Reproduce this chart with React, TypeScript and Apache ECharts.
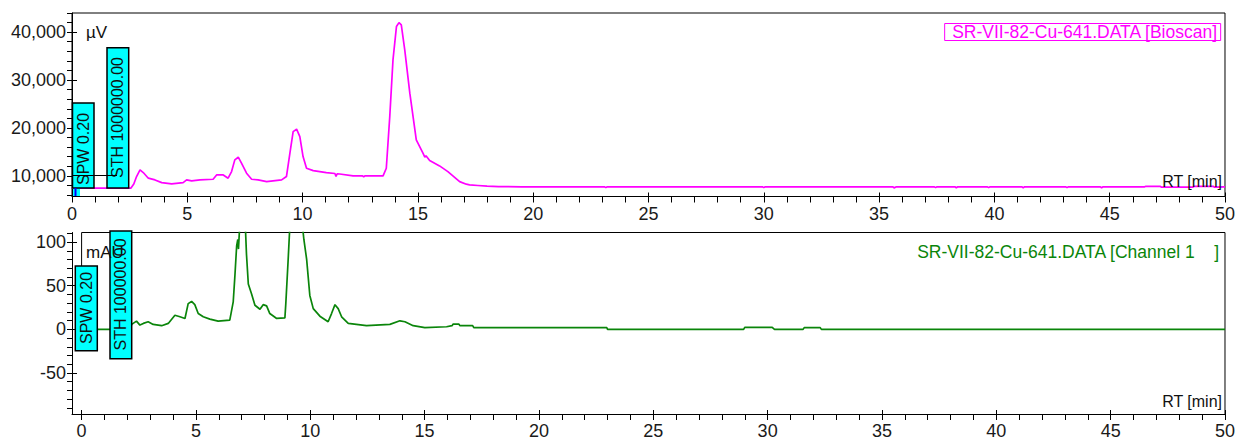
import React, { useEffect, useRef } from 'react';
import * as echarts from 'echarts';

// ---------- data ----------
const bioscanRt = [
  0, 2.55, 2.68, 2.8, 2.95, 3.09, 3.31, 3.6, 3.89, 4.32, 4.82, 4.97, 5.19, 5.55, 6.12, 6.27, 6.56, 6.77, 6.92,
  7.06, 7.21, 7.35, 7.57, 7.79, 8.07, 8.44, 9.09, 9.3, 9.45, 9.59, 9.74, 9.88, 10.02, 10.17, 10.46, 11.03,
  11.4, 11.45, 11.5, 11.61, 12.19, 12.6, 12.65, 12.7, 13.49, 13.63, 13.78, 13.92, 14.07, 14.18, 14.28, 14.43,
  14.65, 14.93, 15.22, 15.3, 15.35, 15.51, 15.94, 16.3, 16.81, 17.1, 17.24, 17.6, 18.0, 18.5, 19.5, 23.1,
  23.15, 23.2, 29.95, 30.0, 30.05, 35.6, 35.65, 35.75, 37.4, 37.45, 37.5, 38.3, 38.35, 38.4, 39.7, 39.75,
  39.8, 41.2, 41.25, 41.3, 43.1, 43.15, 43.2, 44.6, 44.65, 44.7, 46.5, 46.55, 47.2, 47.25, 48.6, 48.65,
  49.5, 49.55, 50,
];
const bioscanUv = [
  7430, 7430, 8300, 9860, 11250, 10700, 9520, 9160, 8600, 8330, 8600, 9160, 8950, 9160, 9300, 10200, 10200, 9520, 10900,
  13340, 13900, 12650, 10560, 9300, 9160, 8810, 9160, 9860, 14740, 19250, 19750, 18200, 14030, 11600, 11100, 10700,
  10500, 9900, 10450, 10400, 10000, 10000, 9800, 10000, 10000, 11600, 22380, 34220, 41170, 42000, 41530, 36300,
  27270, 17520, 14740, 13900, 14200, 13200, 12090, 10900, 8810, 8270, 8120, 8000, 7850, 7770, 7720, 7720,
  7550, 7720, 7720, 7550, 7720, 7720, 7500, 7720, 7720, 7550, 7720, 7720, 7500, 7720, 7720, 7550,
  7720, 7720, 7520, 7720, 7720, 7540, 7720, 7720, 7520, 7720, 7720, 7800, 7800, 7650, 7650, 7800,
  7800, 7650, 7700,
];

const channelRt = [
  0, 2.1, 2.19, 2.4, 2.55, 2.7, 2.91, 3.13, 3.5, 3.79, 4.08, 4.3, 4.52, 4.66, 4.81, 4.95, 5.1, 5.32, 5.61, 5.97,
  6.48, 6.63, 6.7, 6.78, 6.83, 6.86, 6.9, 6.96, 7.05, 7.13, 7.17, 7.21, 7.29, 7.43, 7.58, 7.8, 7.94, 8.09, 8.23,
  8.53, 8.89, 8.93, 9.03, 9.1, 9.25, 9.5, 9.66, 9.72, 9.84, 9.98, 10.13, 10.42, 10.78, 10.93, 11.08, 11.22,
  11.37, 11.66, 12.46, 13.48, 13.92, 14.14, 14.5, 15.01, 15.96, 16.2, 16.25, 16.5, 16.54, 17.1, 17.15, 22.97,
  23.0, 28.95, 29.0, 30.2, 30.3, 31.55, 31.6, 32.3, 32.35, 50,
];
const channelMau = [
  0, 0, 5.7, 9.4, 4.9, 6.8, 8.7, 5.7, 4.2, 6.8, 16.2, 14.4, 12.5, 29.5, 32, 28.3, 18.1, 14.4, 11.7, 9.4,
  10.6, 31.4, 59.8, 95.6, 103, 92, 112, 140, 150, 130, 112, 86, 52, 40.8, 27.6, 23, 28.3, 26.9, 18.1,
  12.5, 13.2, 29.5, 78.6, 115, 220, 220, 118, 103, 80.5, 38.9, 23.8, 15.1, 8.7, 18.1, 28.3, 23.8,
  14.4, 6.8, 4.2, 5.7, 9.8, 8.7, 4.2, 1.9, 3, 4.2, 6, 6, 4.2, 4.2, 1.9, 1.9,
  0, 0, 2.3, 2.3, 0, 0, 2, 2, 0, 0,
];

// ---------- axes / ticks ----------
const xTickLabels = [0, 5, 10, 15, 20, 25, 30, 35, 40, 45, 50];
const xMinorTickValues = [
  0, 1, 2, 3, 4, 5, 6, 7, 8, 9, 10, 11, 12, 13, 14, 15, 16, 17, 18, 19, 20, 21, 22, 23, 24, 25,
  26, 27, 28, 29, 30, 31, 32, 33, 34, 35, 36, 37, 38, 39, 40, 41, 42, 43, 44, 45, 46, 47, 48, 49, 50,
];
const uvTickLabels = [10000, 20000, 30000, 40000];
const uvMinorTickValues = [
  6000, 8000, 10000, 12000, 14000, 16000, 18000, 20000, 22000, 24000, 26000, 28000, 30000,
  32000, 34000, 36000, 38000, 40000, 42000, 44000,
];
const mauTickLabels = [-50, 0, 50, 100];
const mauMinorTickValues = [
  -90, -80, -70, -60, -50, -40, -30, -20, -10, 0, 10, 20, 30, 40, 50, 60, 70, 80, 90, 100, 110,
];

const topXMin = 0;
const topXMax = 50;
const botXMin = -0.42;
const botXMax = 50;
const uvMin = 5700;
const uvMax = 44000;
const mauMin = -97;
const mauMax = 111;

const bioscanName = 'SR-VII-82-Cu-641.DATA [Bioscan]';
const channelName = 'SR-VII-82-Cu-641.DATA [Channel 1    ]';
const uvUnit = 'µV';
const mauUnit = 'mAU';
const rtLabel = 'RT [min]';
const spwText = 'SPW 0.20';
const sthTopText = 'STH 1000000.00';
const sthBotText = 'STH 100000.00';

const FONT = '"Liberation Sans", Arial, sans-serif';
const MAGENTA = '#FF00FF';
const GREEN = '#0A850A';
const CYAN = '#00FFFF';

function xMain(gridIndex: number, min: number, max: number) {
  return {
    type: 'value', gridIndex, min, max, position: 'bottom',
    axisLine: { show: true, onZero: false, lineStyle: { color: '#000', width: 1 } },
    axisTick: { show: true, inside: false, length: 6, customValues: xMinorTickValues, lineStyle: { color: '#000', width: 1 } },
    axisLabel: { show: true, customValues: xTickLabels, margin: 8, fontSize: 18, color: '#1a1a1a', fontFamily: FONT },
    splitLine: { show: false },
  };
}
function xOverlay(gridIndex: number, min: number, max: number) {
  return {
    type: 'value', gridIndex, min, max, position: 'bottom',
    axisLine: { show: false, onZero: false },
    axisTick: { show: true, inside: true, length: 4, customValues: xTickLabels, lineStyle: { color: '#000', width: 1 } },
    axisLabel: { show: false },
    splitLine: { show: false },
  };
}
function yMain(gridIndex: number, min: number, max: number, minors: number[], majors: number[], fmt: (v: number) => string) {
  return {
    type: 'value', gridIndex, min, max, position: 'left',
    axisLine: { show: true, onZero: false, lineStyle: { color: '#000', width: 1 } },
    axisTick: { show: true, inside: false, length: 5, customValues: minors, lineStyle: { color: '#000', width: 1 } },
    axisLabel: { show: true, customValues: majors, margin: 6, fontSize: 18, color: '#1a1a1a', fontFamily: FONT, formatter: fmt },
    splitLine: { show: false },
  };
}
function yOverlay(gridIndex: number, min: number, max: number, majors: number[]) {
  return {
    type: 'value', gridIndex, min, max, position: 'left',
    axisLine: { show: false, onZero: false },
    axisTick: { show: true, inside: true, length: 5, customValues: majors, lineStyle: { color: '#000', width: 1 } },
    axisLabel: { show: false },
    splitLine: { show: false },
  };
}

function rotatedBox(x: number, y: number, w: number, h: number, text: string, textStartY: number) {
  return [
    { type: 'rect', z: 100, shape: { x, y, width: w, height: h }, style: { fill: CYAN, stroke: '#000', lineWidth: 1.5 } },
    {
      type: 'text', z: 101, x: x + w / 2, y: textStartY, rotation: Math.PI / 2,
      style: { text, fontSize: 16, fontFamily: FONT, fill: '#111', align: 'left', verticalAlign: 'middle' },
    },
  ];
}

export default function App() {
  const ref = useRef<HTMLDivElement>(null);
  useEffect(() => {
    if (!ref.current) return;
    const chart = echarts.init(ref.current, null, { renderer: 'svg' });
    const bioscanData = bioscanRt.map((t, i) => [t, bioscanUv[i]]);
    const channelData = channelRt.map((t, i) => [t, channelMau[i]]);
    const frameData = [[botXMax, mauMin], [botXMax, mauMax], [0, mauMax], [0, 0]];

    chart.setOption({
      animation: false,
      textStyle: { fontFamily: FONT },
      grid: [
        { left: 72, top: 13, width: 1153, height: 183.5, show: true, borderColor: '#000', borderWidth: 1, backgroundColor: 'transparent' },
        { left: 72, top: 232.5, width: 1153, height: 184, show: false },
      ],
      title: [
        {
          text: bioscanName, right: 17, top: 24, padding: [0, 3, 0, 8], borderColor: MAGENTA, borderWidth: 1,
          textStyle: { color: MAGENTA, fontSize: 17.5, fontWeight: 'normal', fontFamily: FONT, lineHeight: 16 },
        },
        {
          text: channelName, right: 18, top: 243, padding: 0,
          textStyle: { color: GREEN, fontSize: 17.5, fontWeight: 'normal', fontFamily: FONT, lineHeight: 18 },
        },
      ],
      xAxis: [
        xMain(0, topXMin, topXMax),
        xOverlay(0, topXMin, topXMax),
        xMain(1, botXMin, botXMax),
        xOverlay(1, botXMin, botXMax),
      ],
      yAxis: [
        yMain(0, uvMin, uvMax, uvMinorTickValues, uvTickLabels, (v: number) => v.toLocaleString('en-US')),
        yOverlay(0, uvMin, uvMax, uvTickLabels),
        yMain(1, mauMin, mauMax, mauMinorTickValues, mauTickLabels, (v: number) => String(v)),
        yOverlay(1, mauMin, mauMax, mauTickLabels),
      ],
      series: [
        {
          type: 'line', name: bioscanName, xAxisIndex: 0, yAxisIndex: 0, data: bioscanData,
          symbol: 'none', silent: true, lineStyle: { color: MAGENTA, width: 1.7 }, z: 3,
        },
        {
          type: 'line', name: channelName, xAxisIndex: 2, yAxisIndex: 2, data: channelData,
          symbol: 'none', silent: true, lineStyle: { color: GREEN, width: 1.7 }, z: 3,
        },
        {
          type: 'line', name: 'frame', xAxisIndex: 2, yAxisIndex: 2, data: frameData, clip: false,
          symbol: 'none', silent: true, lineStyle: { color: '#000', width: 1 }, z: 2,
        },
      ],
      graphic: [
        { type: 'rect', z: 100, shape: { x: 73, y: 188, width: 7, height: 8 }, style: { fill: CYAN } },
        { type: 'line', z: 101, shape: { x1: 75.5, y1: 188, x2: 75.5, y2: 196 }, style: { stroke: '#0000FF', lineWidth: 2 } },
        { type: 'text', z: 50, x: 86, y: 32, style: { text: uvUnit, fontSize: 17, fontFamily: FONT, fill: '#111', verticalAlign: 'middle' } },
        ...rotatedBox(72.5, 103, 21.5, 85, spwText, 185),
        ...rotatedBox(107, 47.7, 21.7, 140.3, sthTopText, 178),
        { type: 'line', z: 110, shape: { x1: 72, y1: 175.5, x2: 117, y2: 175.5 }, style: { stroke: '#000', lineWidth: 1.2 } },
        ...rotatedBox(75.3, 266, 22, 84.7, spwText, 344),
        ...rotatedBox(110, 231, 21.7, 127.7, sthBotText, 350.5),
        { type: 'text', z: 105, x: 86, y: 252, style: { text: mauUnit, fontSize: 17, fontFamily: FONT, fill: '#111', verticalAlign: 'middle' } },
        { type: 'text', z: 50, x: 1222, y: 181, style: { text: rtLabel, fontSize: 16, fontFamily: FONT, fill: '#111', align: 'right', verticalAlign: 'middle' } },
        { type: 'text', z: 50, x: 1222, y: 401.5, style: { text: rtLabel, fontSize: 16, fontFamily: FONT, fill: '#111', align: 'right', verticalAlign: 'middle' } },
      ],
    });
    return () => chart.dispose();
  }, []);
  return (
    <div style={{ position: 'fixed', left: 0, top: 0, width: 1238, height: 440, background: '#fff' }}>
      <div ref={ref} style={{ width: 1238, height: 440 }} />
    </div>
  );
}
